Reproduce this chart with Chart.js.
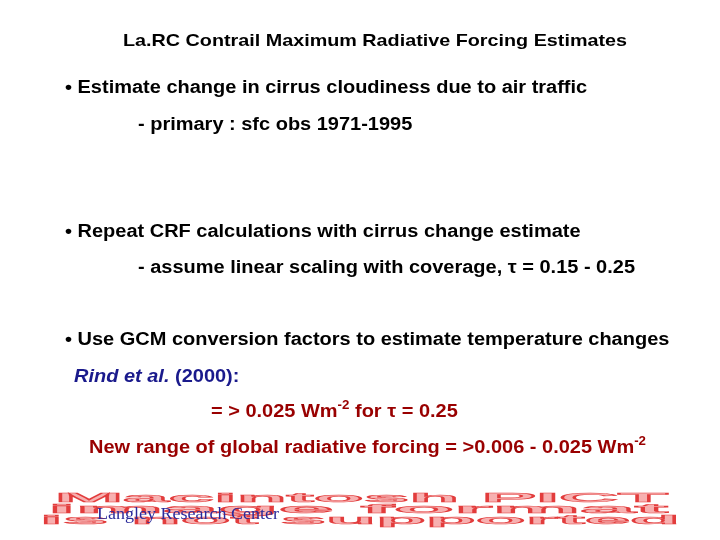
<!DOCTYPE html>
<html>
<head>
<meta charset="utf-8">
<script src="https://cdn.jsdelivr.net/npm/chart.js@4"></script>
<style>
  html, body { margin: 0; padding: 0; background: #fff; }
  #wrap { width: 720px; height: 540px; }
</style>
</head>
<body>
<div id="wrap"><canvas id="slide" width="720" height="540"></canvas></div>
<script>
// slide text, one entry per line: [x, y, colour, segments]
// segment: [text, style] where style is '', 'sup', 'i'
const titleLine = ['La.RC Contrail Maximum Radiative Forcing Estimates'];
const bulletLines = [
    [65, 88, '#000', [['\u2022 Estimate change in cirrus cloudiness due to air traffic', '']]],
    [138, 125, '#000', [['- primary : sfc obs 1971-1995', '']]],
    [65, 232, '#000', [['\u2022 Repeat CRF calculations with cirrus change estimate', '']]],
    [138, 268, '#000', [['- assume linear scaling with coverage, \u03c4 = 0.15 - 0.25', '']]],
    [65, 340, '#000', [['\u2022 Use GCM conversion factors to estimate temperature changes', '']]],
    [74, 377, '#1a1a8c', [['Rind et al.', 'i'], [' (2000):', '']]],
    [211, 412, '#990000', [['= > 0.025 Wm', ''], ['-2', 'sup'], [' for \u03c4 = 0.25', '']]],
    [89, 448, '#990000', [['New range of global radiative forcing = >0.006 - 0.025 Wm', ''], ['-2', 'sup']]]
];
const pictLines = ['Macintosh PICT', 'image format', 'is not supported'];
const footer = 'Langley Research Center';

const textPlugin = {
    id: 'slideText',
    afterDraw(chart) {
        const ctx = chart.ctx;
        ctx.save();
        ctx.textBaseline = 'middle';

        // PICT placeholder
        ctx.font = 'bold 34px "Liberation Sans", Arial, sans-serif';
        ctx.strokeStyle = '#e23c3c';
        ctx.fillStyle = '#f7b0b0';
        ctx.lineWidth = 1.5;
        const py = [499, 510, 521];
        const px = [55, 48, 40];
        const pw = [613, 620, 640];
        pictLines.forEach(function(t, i) {
            ctx.save();
            ctx.translate(px[i], py[i]);
            ctx.scale(pw[i] / ctx.measureText(t).width, 0.36);
            ctx.fillText(t, 0, 0);
            ctx.strokeText(t, 0, 0);
            ctx.restore();
        });

        ctx.fillStyle = '#000';
        ctx.font = 'bold 17px "Liberation Sans", Arial, sans-serif';
        ctx.save();
        ctx.translate(123, 41);
        ctx.scale(504 / ctx.measureText(titleLine[0]).width, 1);
        ctx.fillText(titleLine[0], 0, 0);
        ctx.restore();

        bulletLines.forEach(function(line) {
            ctx.save();
            ctx.translate(line[0], line[1]);
            ctx.scale(1.11, 1);
            let x = 0;
            ctx.fillStyle = line[2];
            line[3].forEach(function(seg) {
                let y = 0;
                if (seg[1] === 'sup') {
                    ctx.font = 'bold 12px "Liberation Sans", Arial, sans-serif';
                    y -= 6;
                } else if (seg[1] === 'i') {
                    ctx.font = 'italic bold 18px "Liberation Sans", Arial, sans-serif';
                } else {
                    ctx.font = 'bold 18px "Liberation Sans", Arial, sans-serif';
                }
                ctx.fillText(seg[0], x, y);
                x += ctx.measureText(seg[0]).width;
            });
            ctx.restore();
        });

        ctx.fillStyle = '#2a2a9a';
        ctx.font = '16px "Liberation Serif", "Times New Roman", serif';
        ctx.save();
        ctx.translate(97, 515);
        ctx.scale(182 / ctx.measureText(footer).width, 1);
        ctx.fillText(footer, 0, 0);
        ctx.restore();
        ctx.restore();
    }
};

new Chart(document.getElementById('slide').getContext('2d'), {
    type: 'line',
    data: { labels: [], datasets: [] },
    options: {
        responsive: false,
        animation: false,
        plugins: { legend: { display: false }, tooltip: { enabled: false } },
        scales: { x: { display: false }, y: { display: false } }
    },
    plugins: [textPlugin]
});
</script>
</body>
</html>
